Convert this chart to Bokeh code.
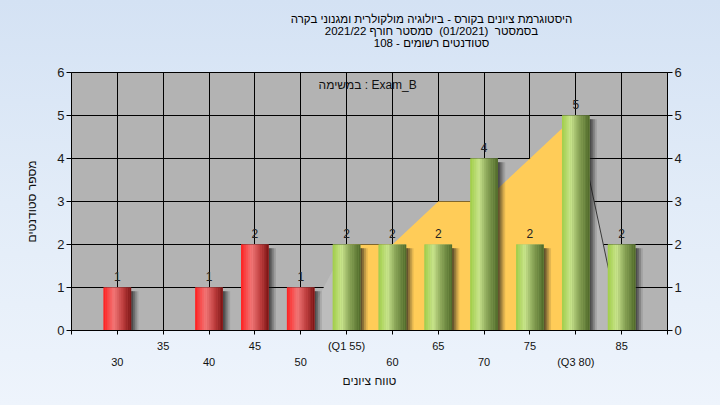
import numpy as np
from bokeh.plotting import figure
from bokeh.layouts import column
from bokeh.models import (LinearAxis, FixedTicker, Range1d, Label, LabelSet,
                          ColumnDataSource)
from bokeh.core.properties import value
from bokeh.embed import file_html
from bokeh.resources import INLINE

# ---------------- data ----------------
title_lines = ["היסטוגרמת ציונים בקורס - ביולוגיה מולקולרית ומגנוני בקרה",
               "בסמסטר\u00a0\u00a0(01/2021)\u00a0\u00a0סמסטר חורף 2021/22",
               "סטודנטים רשומים - 108"]
legend_text = "במשימה : Exam_B"
x_title = "טווח ציונים"
y_title = "מספר סטודנטים"

scores = [30, 35, 40, 45, 50, 55, 60, 65, 70, 75, 80, 85]
counts = [1, 0, 1, 2, 1, 2, 2, 2, 4, 2, 5, 2]
pass_score = 55
q1_score, q3_score = 55, 80

curve_x = [50, 55, 60, 65, 70, 75, 80, 85]
curve_y = [0, 2, 2, 3, 3, 4, 5, 0]

x_ticks = [25, 30, 35, 40, 45, 50, 55, 60, 65, 70, 75, 80, 85, 90]
row1_ticks = [35, 45, 55, 65, 75, 85]
row2_ticks = [30, 40, 50, 60, 70, 80]
y_ticks = [0, 1, 2, 3, 4, 5, 6]

# ---------------- styles ----------------
FONT = "Liberation Sans"
BG = "#E1EBF7"
PAGE_BG = "linear-gradient(to bottom, #D4E2F4 0%, #E2ECF8 50%, #EEF4FC 100%)"
BAR_W = 3.0
N_STRIPS = 16
red_stops = [(0.0, (255, 30, 30)), (0.38, (242, 120, 120)), (0.7, (190, 62, 62)), (1.0, (122, 18, 18))]
green_stops = [(0.0, (160, 206, 70)), (0.32, (202, 230, 142)), (0.62, (135, 162, 85)), (1.0, (78, 104, 40))]


def grad(stops, t):
    for (t0, c0), (t1, c1) in zip(stops[:-1], stops[1:]):
        if t <= t1:
            f = (t - t0) / (t1 - t0) if t1 > t0 else 0
            c = [int(round(a + (b - a) * f)) for a, b in zip(c0, c1)]
            return "#%02x%02x%02x" % tuple(c)
    return "#%02x%02x%02x" % stops[-1][1]


# ---------------- title strip ----------------
TITLE_H = 60
t = figure(frame_width=720, frame_height=TITLE_H, x_range=Range1d(0, 720),
           y_range=Range1d(0, TITLE_H), output_backend="svg",
           toolbar_location=None, min_border=0,
           background_fill_color=BG, background_fill_alpha=0,
           border_fill_color=BG, border_fill_alpha=0,
           outline_line_color=None)
t.axis.visible = False
t.grid.visible = False
line_y = [TITLE_H - 18 - 12 * i for i in range(len(title_lines))]
t.text(x=[360] * len(title_lines), y=line_y, text=title_lines,
       text_align="center", text_baseline="middle",
       text_font=value(FONT), text_font_size=value("11.5px"),
       text_color="#000000")

# ---------------- main chart ----------------
p = figure(frame_width=596, frame_height=258,
           x_range=Range1d(25, 90), y_range=Range1d(0, 6),
           output_backend="svg", toolbar_location=None,
           min_border_left=71, min_border_right=53,
           min_border_top=72 - TITLE_H, min_border_bottom=75,
           background_fill_color="#B3B3B3",
           border_fill_color=BG, border_fill_alpha=0,
           outline_line_color="black", outline_line_width=1)

# grid
p.xgrid.ticker = FixedTicker(ticks=x_ticks)
p.ygrid.ticker = FixedTicker(ticks=y_ticks)
for g in (p.xgrid, p.ygrid):
    g.grid_line_color = "black"
    g.grid_line_alpha = 1.0
    g.grid_line_width = 1

# area (distribution) : grey outside Q1..Q3, yellow inside
xs_grey1 = [x for x in curve_x if x <= q1_score]
ys_grey1 = [y for x, y in zip(curve_x, curve_y) if x <= q1_score]
p.varea(x=xs_grey1, y1=[0] * len(xs_grey1), y2=ys_grey1, fill_color="#BDBDBD")
xs_yel = [x for x in curve_x if q1_score <= x <= q3_score]
ys_yel = [y for x, y in zip(curve_x, curve_y) if q1_score <= x <= q3_score]
p.varea(x=xs_yel, y1=[0] * len(xs_yel), y2=ys_yel, fill_color="#FFCC58")
xs_grey2 = [x for x in curve_x if x >= q3_score]
ys_grey2 = [y for x, y in zip(curve_x, curve_y) if x >= q3_score]
p.varea(x=xs_grey2, y1=[0] * len(xs_grey2), y2=ys_grey2, fill_color="#B8B8B8")
p.line(x=xs_grey2, y=ys_grey2, line_color="#3a3a3a", line_width=1)

# shadows
sx = np.array([s for s, c in zip(scores, counts) if c > 0], dtype=float)
st = np.array([c for c in counts if c > 0], dtype=float)
for dx, a in ((0.2, 0.35), (0.4, 0.28), (0.6, 0.2), (0.8, 0.12)):
    p.vbar(x=sx + dx, width=BAR_W, bottom=0, top=st - 0.09,
           fill_color="#1a1a1a", fill_alpha=a, line_color=None)

# solid base under the strips (hides seams)
base_col = [grad(red_stops if s < pass_score else green_stops, 0.5)
            for s, c in zip(scores, counts) if c > 0]
p.vbar(x=sx, top=st, bottom=0, width=BAR_W, fill_color=base_col, line_color=None)

# gradient bars (cylinder look) built from thin strips
strips = dict(x=[], top=[], color=[])
for s, c in zip(scores, counts):
    if c <= 0:
        continue
    stops = red_stops if s < pass_score else green_stops
    for k in range(N_STRIPS):
        tt = (k + 0.5) / N_STRIPS
        strips["x"].append(s - BAR_W / 2 + tt * BAR_W)
        strips["top"].append(c)
        strips["color"].append(grad(stops, tt))
p.vbar(x="x", top="top", bottom=0, width=BAR_W / N_STRIPS * 1.1,
       fill_color="color", line_color=None, source=ColumnDataSource(strips))

# value labels
lab_src = ColumnDataSource(dict(
    x=[s for s, c in zip(scores, counts) if c > 0],
    y=[c for c in counts if c > 0],
    text=[str(c) for c in counts if c > 0]))
p.add_layout(LabelSet(x="x", y="y", text="text", source=lab_src,
                      text_align="center", text_baseline="bottom", y_offset=7,
                      text_font=value(FONT), text_font_size="12px",
                      text_color="#222222"))

# axes
ax = p.xaxis[0]
ax.ticker = FixedTicker(ticks=x_ticks)
ov = {tk: "" for tk in x_ticks}
for tk in row1_ticks:
    ov[tk] = str(tk)
ov[q1_score] = "(Q1 %d)" % q1_score
ax.major_label_overrides = ov
ax.major_tick_out = 4
ax.major_tick_in = 0
ax.minor_tick_line_color = None
ax.major_label_standoff = 5
ax.major_label_text_font = FONT
ax.major_label_text_font_size = "11px"
ax.major_label_text_color = "#111111"
ax.axis_line_color = "black"

ax2 = LinearAxis(ticker=FixedTicker(ticks=row2_ticks))
ov2 = {tk: str(tk) for tk in row2_ticks}
ov2[q3_score] = "(Q3 %d)" % q3_score
ax2.major_label_overrides = ov2
ax2.axis_line_color = None
ax2.major_tick_line_color = None
ax2.minor_tick_line_color = None
ax2.major_tick_out = 0
ax2.major_tick_in = 0
ax2.major_label_standoff = 1
ax2.major_label_text_font = FONT
ax2.major_label_text_font_size = "11px"
ax2.major_label_text_color = "#111111"
ax2.axis_label = x_title
ax2.axis_label_standoff = 3
ax2.axis_label_text_font = FONT
ax2.axis_label_text_font_size = "12px"
ax2.axis_label_text_font_style = "normal"
ax2.axis_label_text_color = "#111111"
p.add_layout(ax2, "below")

ay = p.yaxis[0]
ay2 = LinearAxis()
p.add_layout(ay2, "right")
for a in (ay, ay2):
    a.ticker = FixedTicker(ticks=y_ticks)
    a.major_tick_out = 5
    a.major_tick_in = 0
    a.minor_tick_line_color = None
    a.major_label_standoff = 2
    a.major_label_text_font = FONT
    a.major_label_text_font_size = "13px"
    a.major_label_text_color = "#1a1a1a"
    a.axis_line_color = "black"
ay.axis_label = y_title
ay.axis_label_standoff = 15
ay.axis_label_text_font = FONT
ay.axis_label_text_font_size = "12px"
ay.axis_label_text_font_style = "normal"
ay.axis_label_text_color = "#111111"

p.add_layout(Label(x=57.3, y=5.7, text=legend_text, text_align="center",
                   text_baseline="middle", text_font=FONT,
                   text_font_size="12px", text_color="#111111"))

layout = column(t, p, spacing=0, styles={"background": PAGE_BG})
open("out.html", "w").write(file_html(layout, INLINE))
